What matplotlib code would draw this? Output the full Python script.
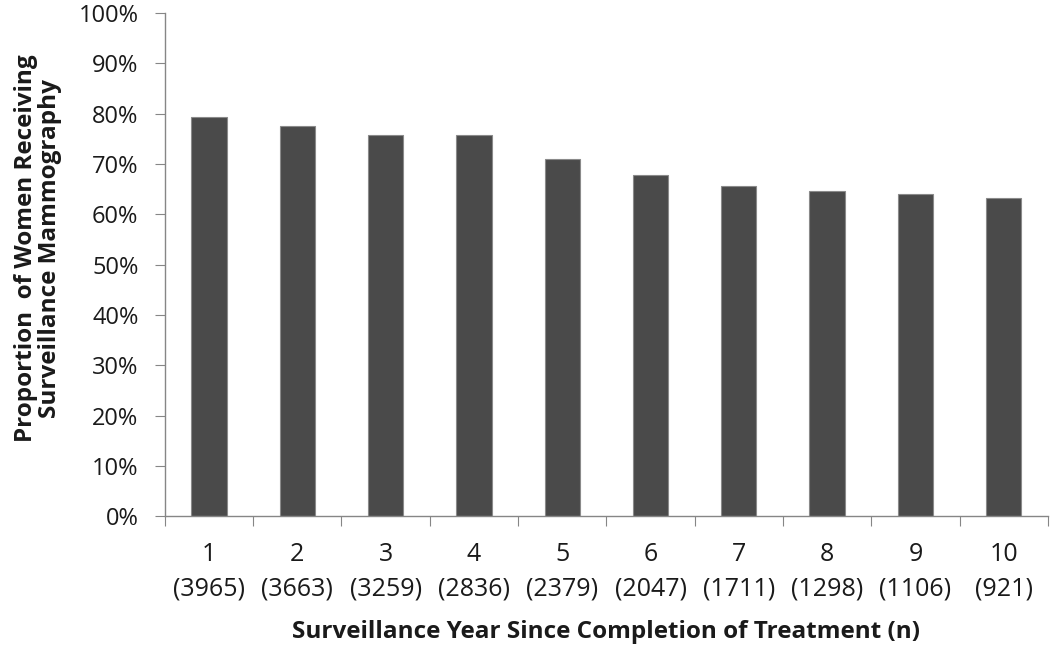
import matplotlib
matplotlib.use("Agg")
import matplotlib.pyplot as plt
from matplotlib.ticker import FixedLocator, PercentFormatter

# -----------------------------
#  Data
# -----------------------------
years = ["1", "2", "3", "4", "5", "6", "7", "8", "9", "10"]
n_women = ["3965", "3663", "3259", "2836", "2379", "2047", "1711", "1298", "1106", "921"]
proportion = [79.3, 77.6, 75.7, 75.7, 70.9, 67.8, 65.6, 64.6, 64.0, 63.2]

plt.rcParams["font.family"] = ["Open Sans", "DejaVu Sans"]

fig = plt.figure(figsize=(10.5, 6.46), dpi=100)
ax = fig.add_axes([0.157, 0.201, 0.841, 0.779])

x = list(range(len(years)))
ax.bar(x, proportion, width=0.4, color="#4a4a4a", edgecolor="#8a8a8a", linewidth=0.8)

ax.set_xlim(-0.5, len(years) - 0.5)
ax.set_ylim(0, 100)

grey = "#868686"
txt = "#1a1a1a"
for side in ["top", "right"]:
    ax.spines[side].set_visible(False)
for side in ["left", "bottom"]:
    ax.spines[side].set_color(grey)
    ax.spines[side].set_linewidth(1.0)

ax.yaxis.set_major_locator(FixedLocator(range(0, 101, 10)))
ax.yaxis.set_major_formatter(PercentFormatter(decimals=0))
ax.tick_params(axis="y", direction="out", length=7, color=grey, labelsize=17,
               labelcolor=txt, pad=12)

# category boundary ticks on x axis, labels at centers
ax.set_xticks([i - 0.5 for i in range(len(years) + 1)])
ax.set_xticklabels([])
ax.tick_params(axis="x", direction="out", length=7, color=grey)
for i, (yr, n) in enumerate(zip(years, n_women)):
    ax.text(i, -7.6, yr, ha="center", va="center", fontsize=18, color=txt)
    ax.text(i, -14.4, f"({n})", ha="center", va="center", fontsize=18, color=txt)

ax.text(0.5, -0.231, "Surveillance Year Since Completion of Treatment (n)",
        transform=ax.transAxes, ha="center", va="center", fontsize=17.5,
        fontweight="bold", color=txt)

fig.text(0.036, 0.616, "Proportion  of Women Receiving\nSurveillance Mammography",
         rotation=90, ha="center", va="center", fontsize=17.5, fontweight="bold",
         color=txt, linespacing=1.0)

fig.savefig("out.png", dpi=100)
